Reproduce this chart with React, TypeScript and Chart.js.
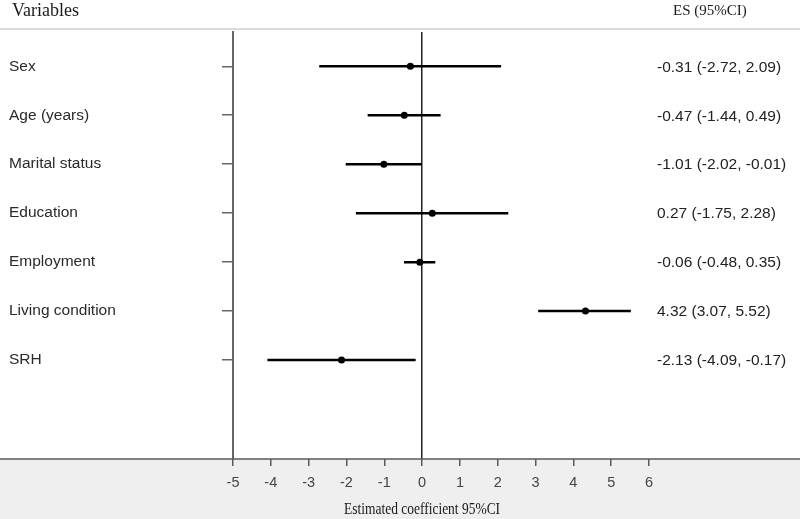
import React, { useEffect, useRef } from 'react';
import { Chart, registerables } from 'chart.js';

Chart.register(...registerables);

const VARIABLES = ['Sex', 'Age (years)', 'Marital status', 'Education', 'Employment', 'Living condition', 'SRH'];
const ESTIMATES = [-0.31, -0.47, -1.01, 0.27, -0.06, 4.32, -2.13];
const LOWER = [-2.72, -1.44, -2.02, -1.75, -0.48, 3.07, -4.09];
const UPPER = [2.09, 0.49, -0.01, 2.28, 0.35, 5.52, -0.17];
const X_MIN = -5;
const X_MAX = 6;
const HEADER_LEFT = 'Variables';
const HEADER_RIGHT = 'ES (95%CI)';
const X_TITLE = 'Estimated coefficient 95%CI';

const SANS = '"Liberation Sans", Arial, sans-serif';
const SERIF = '"Liberation Serif", "Times New Roman", serif';
const LABEL_FONT = `15.5px ${SANS}`;

const fmt = (v: number) => v.toFixed(2);

const decorPlugin = {
  id: 'decor',
  beforeDraw(chart: any) {
    const { ctx, width, height, chartArea } = chart;
    ctx.save();
    ctx.fillStyle = '#ffffff';
    ctx.fillRect(0, 0, width, height);
    ctx.fillStyle = '#efefef';
    ctx.fillRect(0, chartArea.bottom, width, height - chartArea.bottom);
    ctx.strokeStyle = '#cfcfcf';
    ctx.lineWidth = 1.5;
    ctx.beginPath();
    ctx.moveTo(0, 29);
    ctx.lineTo(width, 29);
    ctx.stroke();
    ctx.restore();
  },
  afterDraw(chart: any) {
    const { ctx, width, chartArea, scales } = chart;
    ctx.save();
    // full-width axis baseline
    ctx.strokeStyle = '#5a5a5a';
    ctx.lineWidth = 1.5;
    ctx.beginPath();
    ctx.moveTo(0, chartArea.bottom);
    ctx.lineTo(width, chartArea.bottom);
    ctx.stroke();

    // headers
    ctx.fillStyle = '#1a1a1a';
    ctx.textAlign = 'left';
    ctx.textBaseline = 'alphabetic';
    ctx.font = `18px ${SERIF}`;
    ctx.fillText(HEADER_LEFT, 12, 16);
    ctx.font = `15px ${SERIF}`;
    ctx.fillText(HEADER_RIGHT, 673, 15);

    // right column: ES (95%CI)
    ctx.font = LABEL_FONT;
    ctx.fillStyle = '#222';
    ctx.textBaseline = 'middle';
    VARIABLES.forEach((_, i) => {
      const y = scales.y.getPixelForValue(i + 1);
      ctx.fillText(`${fmt(ESTIMATES[i])} (${fmt(LOWER[i])}, ${fmt(UPPER[i])})`, 657, y + 1);
    });

    // x axis title centred on zero
    ctx.font = `17px ${SERIF}`;
    ctx.textAlign = 'center';
    ctx.textBaseline = 'alphabetic';
    ctx.fillStyle = '#1a1a1a';
    ctx.fillText(X_TITLE, scales.x.getPixelForValue(0), 514, 156);
    ctx.restore();
  },
};

export default function App() {
  const canvasRef = useRef<HTMLCanvasElement | null>(null);

  useEffect(() => {
    const canvas = canvasRef.current;
    if (!canvas) return;

    const measure = document.createElement('canvas').getContext('2d')!;
    measure.font = LABEL_FONT;
    const widest = Math.max(...VARIABLES.map((v) => measure.measureText(v).width));
    const Y_AXIS_WIDTH = 224;
    const Y_TICK_LEN = 11;
    const yPadding = Math.max(0, Y_AXIS_WIDTH - Y_TICK_LEN - widest);

    const ciDatasets = VARIABLES.map((name, i) => ({
      label: name,
      data: [
        { x: LOWER[i], y: i + 1 },
        { x: UPPER[i], y: i + 1 },
      ],
      showLine: true,
      borderColor: '#000',
      borderWidth: 2.5,
      pointRadius: 0,
      pointHoverRadius: 0,
      fill: false,
    }));

    const chart = new Chart(canvas, {
      type: 'scatter',
      data: {
        datasets: [
          {
            label: 'Estimate',
            data: ESTIMATES.map((e, i) => ({ x: e, y: i + 1 })),
            pointRadius: 3.5,
            pointBackgroundColor: '#000',
            pointBorderColor: '#000',
            pointBorderWidth: 0,
            showLine: false,
          },
          ...ciDatasets,
        ] as any,
      },
      options: {
        animation: false,
        responsive: false,
        maintainAspectRatio: false,
        events: [],
        layout: { padding: { left: 9, right: 151, top: 32, bottom: 0 } },
        plugins: {
          legend: { display: false },
          tooltip: { enabled: false },
        },
        scales: {
          x: {
            type: 'linear',
            min: X_MIN,
            max: X_MAX,
            ticks: {
              stepSize: 1,
              color: '#444',
              font: { family: SANS, size: 14.5 },
              padding: 8,
              autoSkip: false,
            },
            grid: {
              drawOnChartArea: true,
              color: (ctx: any) => (ctx.tick && ctx.tick.value === 0 ? '#222' : 'rgba(0,0,0,0)'),
              lineWidth: 1.5,
              tickColor: '#5a5a5a',
              tickLength: 7,
              tickWidth: 1.5,
            },
            border: { display: false },
            afterFit: (scale: any) => {
              scale.height = 60;
              scale.paddingLeft = 0;
              scale.paddingRight = 0;
            },
          },
          y: {
            type: 'linear',
            reverse: true,
            min: 0.3,
            max: 9.02,
            afterBuildTicks: (scale: any) => {
              scale.ticks = VARIABLES.map((_, i) => ({ value: i + 1 }));
            },
            ticks: {
              callback: (value: any) => VARIABLES[Number(value) - 1] ?? '',
              crossAlign: 'far',
              padding: yPadding,
              color: '#2a2a2a',
              font: { family: SANS, size: 15.5 },
              autoSkip: false,
            },
            grid: {
              drawOnChartArea: false,
              color: '#666',
              lineWidth: 1.5,
              tickLength: Y_TICK_LEN,
            },
            border: { display: true, color: '#666', width: 2 },
            afterFit: (scale: any) => {
              scale.width = Y_AXIS_WIDTH;
              scale.paddingTop = 0;
              scale.paddingBottom = 0;
            },
          },
        },
      } as any,
      plugins: [decorPlugin],
    });

    return () => chart.destroy();
  }, []);

  return (
    <div style={{ position: 'fixed', left: 0, top: 0, width: 800, height: 519, background: '#fff' }}>
      <canvas ref={canvasRef} width={800} height={519} style={{ display: 'block' }} />
    </div>
  );
}
